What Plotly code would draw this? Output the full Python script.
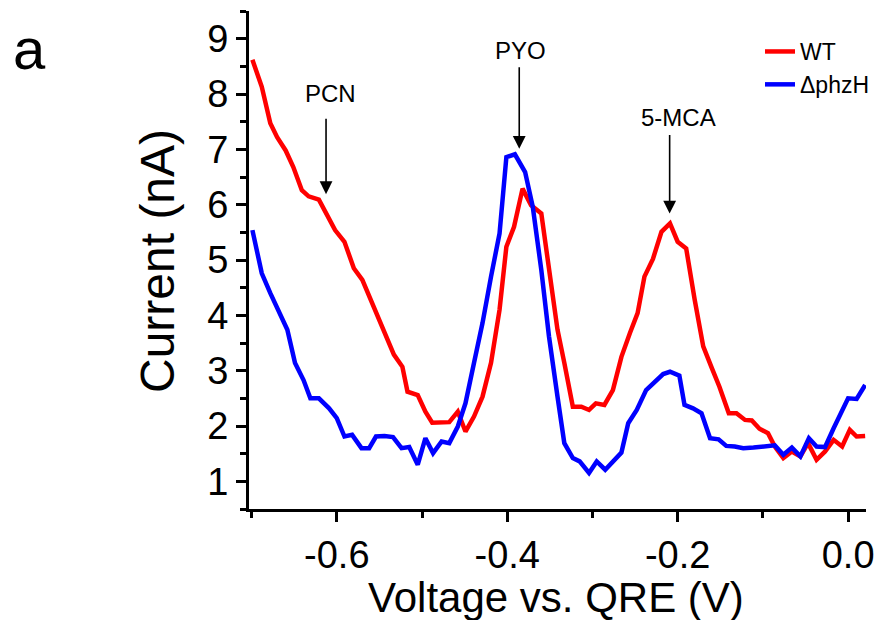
import plotly.graph_objects as go

# ---- data ----
wt_v = [-0.699, -0.688, -0.678, -0.670, -0.660, -0.651, -0.641, -0.633, -0.621, -0.611,
        -0.602, -0.591, -0.580, -0.570, -0.560, -0.551, -0.541, -0.533, -0.523, -0.517,
        -0.505, -0.496, -0.488, -0.478, -0.468, -0.458, -0.449, -0.439, -0.429, -0.419,
        -0.409, -0.401, -0.392, -0.382, -0.372, -0.360, -0.351, -0.341, -0.333, -0.323,
        -0.313, -0.304, -0.296, -0.286, -0.276, -0.266, -0.256, -0.247, -0.239, -0.229,
        -0.219, -0.209, -0.200, -0.190, -0.180, -0.170, -0.160, -0.151, -0.140, -0.131,
        -0.121, -0.113, -0.104, -0.094, -0.086, -0.076, -0.066, -0.056, -0.047, -0.037,
        -0.027, -0.017, -0.007, 0.002, 0.010, 0.020]
wt_i = [8.62, 8.13, 7.47, 7.22, 6.98, 6.68, 6.26, 6.15, 6.09, 5.78,
        5.54, 5.33, 4.85, 4.64, 4.28, 3.92, 3.59, 3.29, 3.07, 2.62,
        2.56, 2.26, 2.06, 2.07, 2.07, 2.26, 1.90, 2.17, 2.53, 3.14,
        4.10, 5.24, 5.60, 6.29, 5.99, 5.84, 4.82, 3.74, 3.14, 2.35,
        2.35, 2.29, 2.41, 2.38, 2.65, 3.25, 3.68, 4.04, 4.70, 5.02,
        5.51, 5.66, 5.33, 5.21, 4.28, 3.44, 3.05, 2.71, 2.23, 2.23,
        2.11, 2.10, 1.95, 1.87, 1.63, 1.42, 1.54, 1.45, 1.69, 1.39,
        1.54, 1.75, 1.63, 1.93, 1.81, 1.82]

phz_v = [-0.699, -0.688, -0.678, -0.668, -0.658, -0.649, -0.639, -0.631, -0.621, -0.609,
         -0.600, -0.591, -0.582, -0.571, -0.562, -0.554, -0.544, -0.534, -0.524, -0.515,
         -0.505, -0.496, -0.487, -0.477, -0.468, -0.458, -0.449, -0.439, -0.429, -0.419,
         -0.409, -0.401, -0.391, -0.379, -0.370, -0.360, -0.351, -0.341, -0.333, -0.323,
         -0.315, -0.304, -0.295, -0.285, -0.276, -0.266, -0.258, -0.248, -0.237, -0.227,
         -0.217, -0.209, -0.198, -0.192, -0.182, -0.172, -0.162, -0.152, -0.143, -0.133,
         -0.123, -0.111, -0.101, -0.092, -0.086, -0.076, -0.066, -0.056, -0.046, -0.037,
         -0.027, -0.017, -0.009, 0.000, 0.010, 0.020]
phz_i = [5.54, 4.76, 4.40, 4.07, 3.74, 3.14, 2.83, 2.50, 2.50, 2.32,
         2.14, 1.81, 1.84, 1.60, 1.60, 1.81, 1.82, 1.80, 1.60, 1.62,
         1.30, 1.78, 1.51, 1.72, 1.69, 1.99, 2.41, 3.14, 3.86, 4.70,
         5.48, 6.86, 6.91, 6.59, 5.96, 4.82, 3.62, 2.53, 1.69, 1.42,
         1.36, 1.15, 1.36, 1.21, 1.36, 1.52, 2.05, 2.29, 2.65, 2.80,
         2.94, 2.98, 2.91, 2.38, 2.32, 2.23, 1.78, 1.76, 1.64, 1.63,
         1.60, 1.61, 1.63, 1.65, 1.65, 1.48, 1.61, 1.45, 1.78, 1.63,
         1.62, 1.96, 2.23, 2.50, 2.49, 2.74]

x_tickvals = [-0.6, -0.4, -0.2, 0.0]
x_ticktext = ["-0.6", "-0.4", "-0.2", "0.0"]
y_tickvals = [1, 2, 3, 4, 5, 6, 7, 8, 9]

peak_names = ["PCN", "PYO", "5-MCA"]
peak_v = [-0.6126, -0.3859, -0.2094]
peak_i = [6.19, 7.01, 5.84]
label_i = [8.01, 8.79, 7.58]
label_v = [-0.607, -0.385, -0.199]

FONT = "Liberation Sans, Arial, sans-serif"

W, H = 878, 620
L, R, T, B = 249, 12, 11, 111
PW, PH = W - L - R, H - T - B


def px(xw):  # window pixel x -> paper
    return (xw - L) / PW


def py(yw):  # window pixel y -> paper
    return (H - B - yw) / PH


fig = go.Figure()
fig.add_trace(go.Scatter(x=wt_v, y=wt_i, mode="lines", name="WT",
                         line=dict(color="#ff0000", width=4.5)))
fig.add_trace(go.Scatter(x=phz_v, y=phz_i, mode="lines", name="ΔphzH",
                         line=dict(color="#0000ff", width=4.5)))

ay_off = [-77, -83, -80]
for name, v, i, lv, li, ay in zip(peak_names, peak_v, peak_i, label_v, label_i, ay_off):
    fig.add_annotation(x=v, y=i, ax=0, ay=ay, text="", showarrow=True,
                       arrowhead=2, arrowsize=1.6, arrowwidth=1.6, arrowcolor="black",
                       xref="x", yref="y")
    fig.add_annotation(x=lv, y=li, text=name, showarrow=False,
                       font=dict(family=FONT, size=24, color="black"),
                       xanchor="center", yanchor="middle")

# panel letter and axis titles
fig.add_annotation(x=px(29), y=py(49), xref="paper", yref="paper", text="a", showarrow=False,
                   font=dict(family=FONT, size=58, color="black"),
                   xanchor="center", yanchor="middle")
fig.add_annotation(x=px(556), y=py(597), xref="paper", yref="paper",
                   text="Voltage vs. QRE (V)", showarrow=False,
                   font=dict(family=FONT, size=42, color="black"),
                   xanchor="center", yanchor="middle")
fig.add_annotation(x=px(157), y=py(261), xref="paper", yref="paper",
                   text="Current (nA)", showarrow=False, textangle=-90,
                   font=dict(family=FONT, size=48, color="black"),
                   xanchor="center", yanchor="middle")

fig.update_xaxes(range=[-0.703, 0.021], showline=True, linewidth=3, linecolor="black",
                 ticks="outside", ticklen=10, tickwidth=3, tickcolor="black",
                 tickvals=x_tickvals, ticktext=x_ticktext, automargin=False,
                 tickfont=dict(family=FONT, size=38, color="black"),
                 minor=dict(ticks="outside", ticklen=6, tickwidth=3, tickcolor="black", dtick=0.1, tick0=0),
                 showgrid=False, zeroline=False)
fig.update_yaxes(range=[0.5, 9.5], showline=True, linewidth=3, linecolor="black",
                 ticks="outside", ticklen=10, tickwidth=3, tickcolor="black",
                 tickvals=y_tickvals, automargin=False,
                 tickfont=dict(family=FONT, size=38, color="black"),
                 minor=dict(ticks="outside", ticklen=6, tickwidth=3, tickcolor="black", dtick=0.5, tick0=0.5),
                 showgrid=False, zeroline=False)

fig.update_layout(width=W, height=H,
                  margin=dict(l=L, r=R, t=T, b=B, autoexpand=False),
                  plot_bgcolor="white", paper_bgcolor="white",
                  font=dict(family=FONT, color="black"),
                  legend=dict(x=px(760), y=py(30),
                              xanchor="left", yanchor="top",
                              font=dict(family=FONT, size=23, color="black"),
                              bgcolor="rgba(0,0,0,0)", tracegroupgap=0),
                  showlegend=True)

# Remove the page's default 8px body margin so the 878x620 figure fills the window exactly.
fig.write_html("out.html", config={"displayModeBar": False},
               post_script="document.body.style.margin='0';")
